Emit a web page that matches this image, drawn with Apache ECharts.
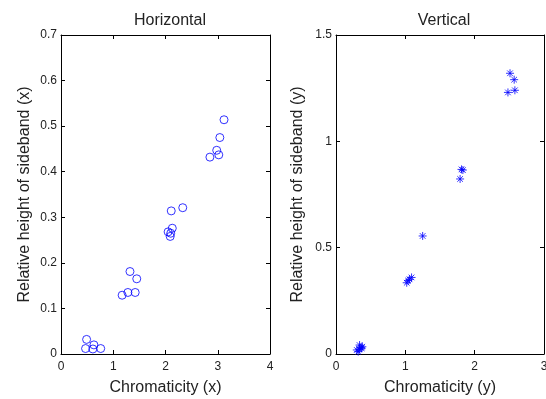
<!DOCTYPE html>
<html>
<head>
<meta charset="utf-8">
<script src="https://cdn.jsdelivr.net/npm/echarts@6/dist/echarts.min.js"></script>
<style>
  html, body { margin: 0; padding: 0; background: #fff; }
  #chart { width: 546px; height: 399px; }
</style>
</head>
<body>
<div id="chart"></div>
<script>
// Horizontal: chromaticity (x) vs relative sideband height (x)
const horizX = [0.49, 0.47, 0.63, 0.61, 0.76, 1.17, 1.28, 1.32, 1.42, 1.45, 2.11, 2.33, 2.05, 2.13, 2.09, 2.10, 3.12, 3.04, 2.98, 3.02, 2.85];
const horizY = [0.032, 0.012, 0.020, 0.011, 0.012, 0.129, 0.135, 0.181, 0.135, 0.165, 0.314, 0.321, 0.268, 0.276, 0.258, 0.265, 0.514, 0.475, 0.447, 0.437, 0.432];

// Vertical: chromaticity (y) vs relative sideband height (y)
const vertX = [0.30, 0.34, 0.37, 0.32, 0.38, 0.34, 0.36, 1.02, 1.04, 1.06, 1.09, 1.25, 1.79, 1.81, 1.83, 2.48, 2.51, 2.57, 2.58];
const vertY = [0.019, 0.042, 0.027, 0.011, 0.034, 0.022, 0.030, 0.335, 0.345, 0.351, 0.360, 0.555, 0.823, 0.868, 0.865, 1.23, 1.32, 1.29, 1.24];

const leftXTicks = { min: 0, max: 4, interval: 1 };
const leftYTicks = { min: 0, max: 0.7, interval: 0.1 };
const rightXTicks = { min: 0, max: 3, interval: 1 };
const rightYTicks = { min: 0, max: 1.5, interval: 0.5 };

const font = "Liberation Sans, Arial, Helvetica, sans-serif";
const blue = "#0000ff";

function axis(gridIndex, ticks, position, opts) {
  const showLabel = position === "bottom" || position === "left";
  return Object.assign({
    type: "value",
    gridIndex: gridIndex,
    position: position,
    min: ticks.min,
    max: ticks.max,
    interval: ticks.interval,
    splitLine: { show: false },
    axisLine: { show: true, onZero: false, lineStyle: { color: "#000", width: 1 } },
    axisTick: { show: true, inside: true, length: 4, lineStyle: { color: "#000" } },
    axisLabel: {
      show: showLabel,
      color: "#222",
      fontFamily: font,
      fontSize: 12,
      margin: position === "left" ? 4 : 7
    }
  }, opts || {});
}

const nameStyle = { color: "#222", fontFamily: font, fontSize: 16 };

let element = document.getElementById("chart");
let myChart = echarts.init(element, null, { renderer: "canvas" });

let option = {
  animation: false,
  backgroundColor: "#fff",
  title: [
    { text: "Horizontal", left: 165, top: 8, textAlign: "center",
      textStyle: { color: "#222", fontFamily: font, fontSize: 16, fontWeight: "normal" } },
    { text: "Vertical", left: 439, top: 8, textAlign: "center",
      textStyle: { color: "#222", fontFamily: font, fontSize: 16, fontWeight: "normal" } }
  ],
  grid: [
    { left: 61, top: 35, width: 209, height: 319, containLabel: false, outerBoundsMode: "none" },
    { left: 336, top: 35, width: 208, height: 319, containLabel: false, outerBoundsMode: "none" }
  ],
  xAxis: [
    axis(0, leftXTicks, "bottom", { name: "Chromaticity (x)", nameLocation: "middle", nameGap: 26, nameTextStyle: nameStyle }),
    axis(0, leftXTicks, "top"),
    axis(1, rightXTicks, "bottom", { name: "Chromaticity (y)", nameLocation: "middle", nameGap: 26, nameTextStyle: nameStyle }),
    axis(1, rightXTicks, "top")
  ],
  yAxis: [
    axis(0, leftYTicks, "left", { name: "Relative height of sideband (x)", nameLocation: "middle", nameGap: 28, nameTextStyle: nameStyle }),
    axis(0, leftYTicks, "right"),
    axis(1, rightYTicks, "left", { name: "Relative height of sideband (y)", nameLocation: "middle", nameGap: 30, nameTextStyle: nameStyle }),
    axis(1, rightYTicks, "right")
  ],
  series: [
    {
      type: "scatter",
      xAxisIndex: 0,
      yAxisIndex: 0,
      symbol: "circle",
      symbolSize: 8,
      itemStyle: { color: "rgba(0,0,0,0)", borderColor: blue, borderWidth: 1 },
      data: horizX.map((x, i) => [x, horizY[i]])
    },
    {
      type: "scatter",
      xAxisIndex: 2,
      yAxisIndex: 2,
      symbol: "path://M0,5 L10,5 M5,0 L5,10 M1.5,1.5 L8.5,8.5 M8.5,1.5 L1.5,8.5",
      symbolSize: 8,
      itemStyle: { color: "rgba(0,0,0,0)", borderColor: blue, borderWidth: 1 },
      data: vertX.map((x, i) => [x, vertY[i]])
    }
  ]
};
myChart.setOption(option);
</script>
</body>
</html>
